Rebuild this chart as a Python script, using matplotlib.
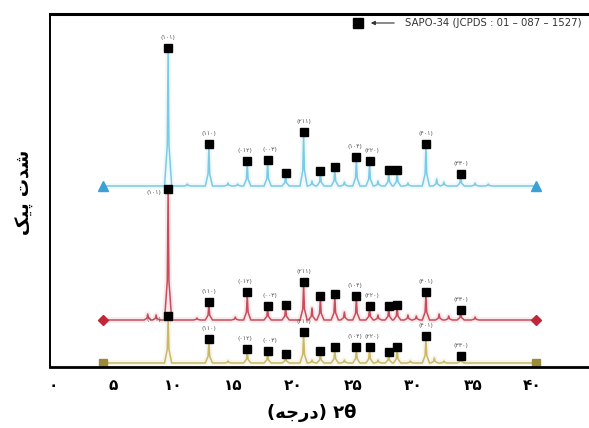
import numpy as np
import matplotlib
matplotlib.use('Agg')
import matplotlib.pyplot as plt

plt.rcParams['font.family'] = ['DejaVu Sans']

# SAPO-34 reflections, 2theta
peak_pos = [9.6, 13.0, 16.2, 17.9, 19.4, 20.9, 22.3, 23.5, 25.3, 26.4, 28.0, 28.7, 31.1, 34.0]
hkl = ['(۱۰۱)', '(۱۱۰)', '(۰۱۲)', '(۰۰۳)', '', '(۲۱۱)', '', '', '(۱۰۴)', '(۲۲۰)', '', '', '(۴۰۱)', '(۳۳۰)']

# peak heights above each baseline (arbitrary units)
blue_int = [136, 40, 23, 24, 11, 52, 13, 17, 27, 23, 14, 14, 40, 10]
red_int = [129, 16, 26, 12, 13, 36, 22, 24, 22, 12, 12, 13, 26, 8]
olive_int = [45, 22, 12, 10, 7, 29, 10, 14, 14, 14, 9, 14, 25, 5]

# small unmarked bumps
blue_minor_pos = [11.2, 14.6, 15.4, 21.6, 24.3, 27.1, 29.6, 32.0, 32.6, 35.2, 36.3]
blue_minor_h = [2, 3, 2, 5, 4, 5, 3, 7, 4, 3, 2]
red_minor_pos = [7.9, 8.6, 12.0, 15.2, 21.6, 24.3, 27.1, 29.6, 30.3, 32.2, 33.0, 35.2]
red_minor_h = [6, 5, 2, 3, 12, 8, 5, 5, 4, 6, 4, 3]
olive_minor_pos = [14.6, 21.6, 24.3, 27.1, 29.8, 31.8, 32.6]
olive_minor_h = [2, 3, 3, 3, 2, 5, 2]

scan_start, scan_end = 4.2, 40.3
baselines = [181, 47, 4]

tick_pos = [0, 5, 10, 15, 20, 25, 30, 35, 40]
tick_lbl = ['۰', '۵', '۱۰', '۱۵', '۲۰', '۲۵', '۳۰', '۳۵', '۴۰']


def pattern(main_pos, main_h, minor_pos, minor_h):
    peaks = sorted(zip(list(main_pos) + list(minor_pos), list(main_h) + list(minor_h)))
    xs, ys = [scan_start], [0]
    for p, h in peaks:
        xs += [p - 0.3, p - 0.07, p, p + 0.07, p + 0.3]
        ys += [0, h * 0.3, h, h * 0.3, 0]
    xs.append(scan_end)
    ys.append(0)
    return np.array(xs), np.array(ys)


fig = plt.figure(figsize=(5.89, 4.28), dpi=100)
ax = fig.add_axes([50 / 589, 1 - 367 / 428, 1 - 50 / 589, 353 / 428])

series = [
    (blue_int, blue_minor_pos, blue_minor_h, '#7ccbe4', '#3aa0d8', '^', 7),
    (red_int, red_minor_pos, red_minor_h, '#c94c5c', '#c0283a', 'D', 5.5),
    (olive_int, olive_minor_pos, olive_minor_h, '#c9b866', '#9c8a3a', 's', 6),
]

for i, (ints, mpos, mh, lc, ec, mk, ms) in enumerate(series):
    base = baselines[i]
    x, y = pattern(peak_pos, ints, mpos, mh)
    ax.plot(x, y + base, color=lc, lw=4, alpha=0.12, solid_joinstyle='round')
    ax.plot(x, y + base, color=lc, lw=1.1)
    ax.plot([scan_start, scan_end], [base, base], ls='none', marker=mk,
            ms=ms, color=ec)
    tops = np.array(ints) + base + 2
    ax.plot(peak_pos, tops, ls='none', marker='s', ms=5.8, color='black')
    for k, (p, t, lab) in enumerate(zip(peak_pos, tops, hkl)):
        if not lab:
            continue
        off, ha = (0, 6), 'center'
        if k == 0 and i > 0:
            off, ha = (-5, -4), 'right'
        elif k in (2, 8):
            off, ha = (4, 6), 'right'
        elif k in (3, 9):
            off, ha = (-4, 6), 'left'
        ax.annotate(lab, (p, t), xytext=off, textcoords='offset points',
                    ha=ha, va='bottom', fontsize=4.5, color='#555555')

ax.set_xlim(-0.25, 44.7)
ax.set_ylim(0, 353)
ax.set_yticks([])
ax.set_xticks(tick_pos)
ax.set_xticklabels(tick_lbl, fontsize=11, fontweight='bold')
ax.tick_params(axis='x', length=0, pad=8)
ax.spines['right'].set_visible(False)
ax.spines['top'].set_linewidth(2.2)
ax.spines['bottom'].set_linewidth(2.0)
ax.spines['left'].set_linewidth(1.4)

# y label "شدت پیک" and x label "2θ (درجه)" in visual (shaped) order
fig.text(25 / 589, 1 - 192 / 428, '\uFB8F\uFEF4\uFB58 \uFE95\uFEAA\uFEB7',
         rotation=90, ha='center', va='center', fontsize=13, fontweight='bold')
fig.text(312 / 589, 1 - 413 / 428, '(\uFEEA\uFE9F\uFEAD\uFEA9) ۲θ',
         ha='center', va='center', fontsize=13, fontweight='bold')

# legend
fig.lines.append(plt.Line2D([358 / 589], [1 - 23 / 428], marker='s', ms=6.5,
                            color='black', transform=fig.transFigure))
fig.patches.append(matplotlib.patches.FancyArrowPatch(
    (397 / 589, 1 - 23 / 428), (368 / 589, 1 - 23 / 428),
    arrowstyle='-|>', mutation_scale=6, lw=0.8, color='#333333',
    transform=fig.transFigure))
fig.text(405 / 589, 1 - 23 / 428, 'SAPO-34 (JCPDS : 01 – 087 – 1527)',
         ha='left', va='center', fontsize=7.3, color='#333333')

fig.savefig('out.png', dpi=100)
